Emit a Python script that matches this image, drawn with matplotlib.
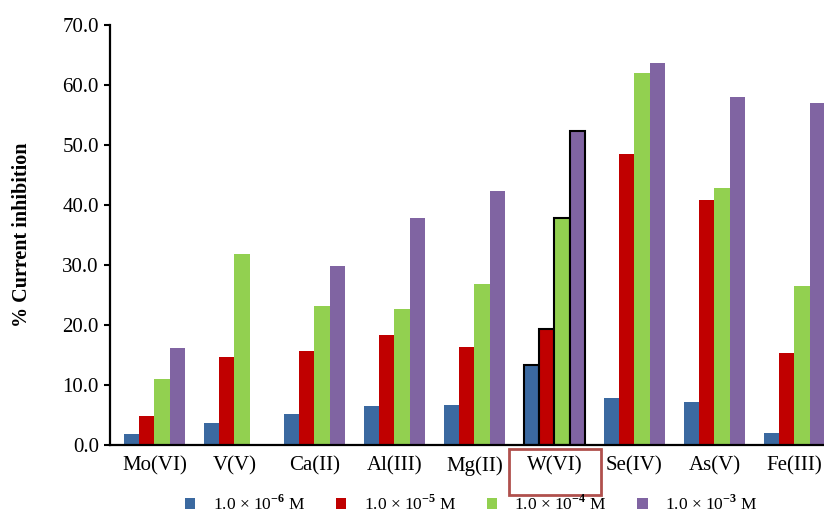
import numpy as np
from matplotlib import pyplot as plt
from matplotlib.patches import Patch, Rectangle
from matplotlib.transforms import blended_transform_factory

ions = ['Mo(VI)', 'V(V)', 'Ca(II)', 'Al(III)', 'Mg(II)', 'W(VI)', 'Se(IV)', 'As(V)', 'Fe(III)']
conc_labels = [r'1.0 $\times$ 10$^{\mathbf{-6}}$ M', r'1.0 $\times$ 10$^{\mathbf{-5}}$ M',
               r'1.0 $\times$ 10$^{\mathbf{-4}}$ M', r'1.0 $\times$ 10$^{\mathbf{-3}}$ M']
c_1e6 = [1.8, 3.6, 5.2, 6.4, 6.7, 13.3, 7.8, 7.2, 2.0]
c_1e5 = [4.8, 14.7, 15.7, 18.4, 16.4, 19.3, 48.5, 40.9, 15.3]
c_1e4 = [11.0, 31.8, 23.2, 22.7, 26.9, 37.8, 62.0, 42.9, 26.5]
c_1e3 = [16.1, 0.0, 29.8, 37.8, 42.3, 52.4, 63.7, 58.1, 57.1]
colors = ['#3B69A0', '#C00000', '#92D050', '#8064A2']

plt.rcParams['font.family'] = ['Liberation Serif', 'DejaVu Serif']
plt.rcParams['mathtext.fontset'] = 'custom'
plt.rcParams['mathtext.rm'] = 'Liberation Serif'
plt.rcParams['mathtext.bf'] = 'Liberation Serif:bold'

fig = plt.figure(figsize=(8.24, 5.13), dpi=100)
ax = fig.add_axes([0.1335, 0.1331, 0.8665, 0.8172])

x = np.arange(len(ions))
w = 0.19
series = [c_1e6, c_1e5, c_1e4, c_1e3]
for i, vals in enumerate(series):
    pos = x + (i - 1.5) * w
    bars = ax.bar(pos, vals, w, color=colors[i], edgecolor='none')
    # W(VI) group outlined in black
    bars[5].set_edgecolor('black')
    bars[5].set_linewidth(1.5)

ax.set_xlim(-0.556, 8.37)
ax.set_ylim(0, 70)
ax.set_yticks(np.arange(0, 71, 10))
ax.set_yticklabels([f'{v:.1f}' for v in np.arange(0, 71, 10)], fontsize=15)
ax.set_xticks(x)
ax.set_xticklabels(ions, fontsize=15)
ax.tick_params(axis='x', length=0, pad=8)
ax.tick_params(axis='y', length=4, width=1.5, direction='out', pad=4)
for s in ['top', 'right']:
    ax.spines[s].set_visible(False)
for s in ['left', 'bottom']:
    ax.spines[s].set_linewidth(1.6)
ax.set_ylabel('% Current inhibition', fontsize=14.5, fontweight='bold', labelpad=22)

# highlight box around W(VI)
trans = blended_transform_factory(ax.transData, ax.transAxes)
ax.add_patch(Rectangle((5 - 0.562, -0.12), 1.149, 0.11, transform=trans,
                       fill=False, edgecolor='#B0504D', linewidth=2, clip_on=False))

handles = [Patch(facecolor=c, edgecolor='none') for c in colors]
fig.legend(handles, conc_labels, loc='center', bbox_to_anchor=(0.572, 0.017), ncol=4,
           frameon=False, fontsize=12.5, handlelength=0.6, handleheight=0.6,
           columnspacing=1.75, handletextpad=1.0, borderpad=0.1)

fig.savefig('out.png', dpi=100)
